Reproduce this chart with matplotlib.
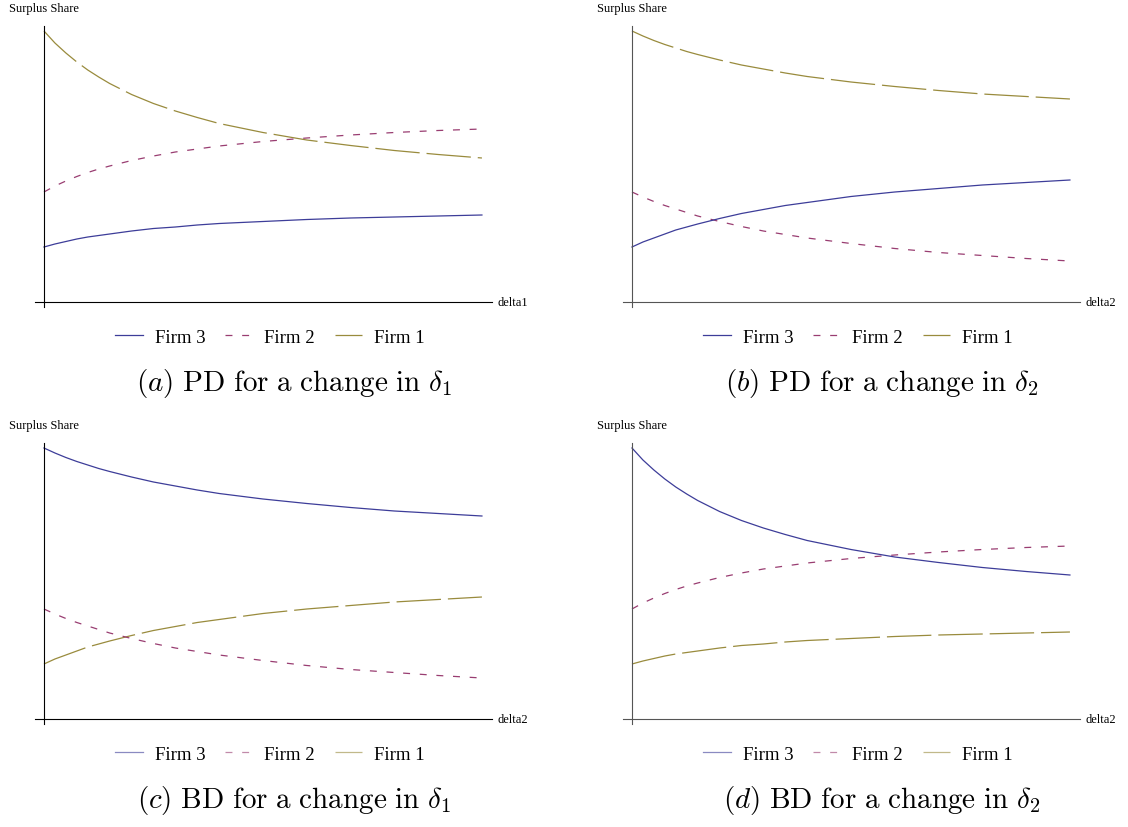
import matplotlib.pyplot as plt

plt.rcParams['mathtext.fontset'] = 'cm'
plt.rcParams['lines.scale_dashes'] = False

# sample points along the delta axis (no units in the original)
t = [0, 0.025, 0.05, 0.075, 0.1, 0.125, 0.15, 0.2, 0.25, 0.3, 0.35, 0.4, 0.5, 0.6, 0.7, 0.8, 0.9, 1.0]

# (a) PD for a change in delta1
pd_d1_firm1 = [0.542, 0.518, 0.498, 0.480, 0.464, 0.450, 0.437, 0.415, 0.397, 0.382, 0.369, 0.357, 0.339, 0.324, 0.313, 0.303, 0.295, 0.288]
pd_d1_firm2 = [0.220, 0.232, 0.242, 0.251, 0.259, 0.266, 0.272, 0.283, 0.292, 0.300, 0.306, 0.312, 0.321, 0.328, 0.334, 0.339, 0.343, 0.346]
pd_d1_firm3 = [0.110, 0.116, 0.121, 0.126, 0.130, 0.133, 0.136, 0.142, 0.147, 0.150, 0.154, 0.157, 0.161, 0.165, 0.168, 0.170, 0.172, 0.174]

# (b) PD for a change in delta2
pd_d2_firm1 = [0.542, 0.532, 0.523, 0.515, 0.508, 0.501, 0.495, 0.484, 0.474, 0.466, 0.458, 0.451, 0.440, 0.431, 0.423, 0.416, 0.411, 0.406]
pd_d2_firm2 = [0.220, 0.210, 0.201, 0.193, 0.186, 0.179, 0.172, 0.161, 0.151, 0.142, 0.135, 0.128, 0.117, 0.107, 0.099, 0.093, 0.087, 0.082]
pd_d2_firm3 = [0.110, 0.120, 0.128, 0.136, 0.144, 0.150, 0.156, 0.167, 0.177, 0.185, 0.193, 0.199, 0.211, 0.220, 0.227, 0.234, 0.239, 0.244]

# (c) BD for a change in delta1
bd_d1_firm1 = [0.110, 0.120, 0.128, 0.136, 0.144, 0.150, 0.156, 0.167, 0.177, 0.185, 0.193, 0.199, 0.211, 0.220, 0.227, 0.234, 0.239, 0.244]
bd_d1_firm2 = [0.220, 0.210, 0.201, 0.193, 0.186, 0.179, 0.172, 0.161, 0.151, 0.142, 0.135, 0.128, 0.117, 0.107, 0.099, 0.093, 0.087, 0.082]
bd_d1_firm3 = [0.542, 0.532, 0.523, 0.515, 0.508, 0.501, 0.495, 0.484, 0.474, 0.466, 0.458, 0.451, 0.440, 0.431, 0.423, 0.416, 0.411, 0.406]

# (d) BD for a change in delta2
bd_d2_firm1 = [0.110, 0.116, 0.121, 0.126, 0.130, 0.133, 0.136, 0.142, 0.147, 0.150, 0.154, 0.157, 0.161, 0.165, 0.168, 0.170, 0.172, 0.174]
bd_d2_firm2 = [0.220, 0.232, 0.242, 0.251, 0.259, 0.266, 0.272, 0.283, 0.292, 0.300, 0.306, 0.312, 0.321, 0.328, 0.334, 0.339, 0.343, 0.346]
bd_d2_firm3 = [0.542, 0.518, 0.498, 0.480, 0.464, 0.450, 0.437, 0.415, 0.397, 0.382, 0.369, 0.357, 0.339, 0.324, 0.313, 0.303, 0.295, 0.288]

panels = [
    ("a", "PD", "1", "delta1", pd_d1_firm1, pd_d1_firm2, pd_d1_firm3),
    ("b", "PD", "2", "delta2", pd_d2_firm1, pd_d2_firm2, pd_d2_firm3),
    ("c", "BD", "1", "delta2", bd_d1_firm1, bd_d1_firm2, bd_d1_firm3),
    ("d", "BD", "2", "delta2", bd_d2_firm1, bd_d2_firm2, bd_d2_firm3),
]

navy = (0.24, 0.24, 0.6)
maroon = (0.6, 0.24, 0.4428)
olive = (0.6, 0.547, 0.24)

W, H = 1128, 828
fig = plt.figure(figsize=(W / 100, H / 100), dpi=100)

# pixel boxes (left, top) of each axes; axes are 457 x 281 px
origins = [(35, 27), (623, 27), (35, 444), (623, 444)]
axis_colors = ['black', '#555555', 'black', '#555555']
serif = ['Liberation Serif', 'DejaVu Serif']

for i, (tag, kind, sub, xlab, f1, f2, f3) in enumerate(panels):
    x0, y0 = origins[i]
    ax = fig.add_axes([x0 / W, 1 - (y0 + 281) / H, 457 / W, 281 / H])
    l1, = ax.plot(t, f1, color=olive, lw=0.9, linestyle=(0, (32, 5)))
    l2, = ax.plot(t, f2, color=maroon, lw=0.9, linestyle=(0, (5, 7)))
    l3, = ax.plot(t, f3, color=navy, lw=0.9)

    ax.set_xlim(-0.0205, 1.023)
    ax.set_ylim(-0.01, 0.552)
    for s in ['top', 'right']:
        ax.spines[s].set_visible(False)
    ax.spines['left'].set_position(('data', 0))
    ax.spines['bottom'].set_position(('data', 0))
    for s in ['left', 'bottom']:
        ax.spines[s].set_color(axis_colors[i])
        ax.spines[s].set_linewidth(0.8)
    ax.set_xticks([])
    ax.set_yticks([])
    ax.patch.set_visible(False)

    ax.text(0, 0.552 + 0.035, "Surplus Share", ha='center', va='center',
            fontsize=9, family=serif)
    ax.text(1.035, 0, xlab, ha='left', va='center', fontsize=9, family=serif)

    leg = fig.legend([l3, l2, l1], ["Firm 3", "Firm 2", "Firm 1"], ncol=3,
                     loc='center', bbox_to_anchor=((x0 + 235) / W, 1 - (y0 + 311) / H),
                     frameon=False, prop={'family': serif, 'size': 13.5},
                     handlelength=1.45, handletextpad=0.65, columnspacing=1.05)
    if i >= 2:
        for h in leg.legend_handles:
            h.set_alpha(0.6)

    fig.text((x0 + 259) / W, 1 - (y0 + 357) / H,
             r"$\mathit{(" + tag + r")}\ \mathrm{" + kind + r"\ for\ a\ change\ in}\ \delta_" + sub + "$",
             ha='center', va='center', fontsize=21)

fig.savefig("out.png", dpi=100)
